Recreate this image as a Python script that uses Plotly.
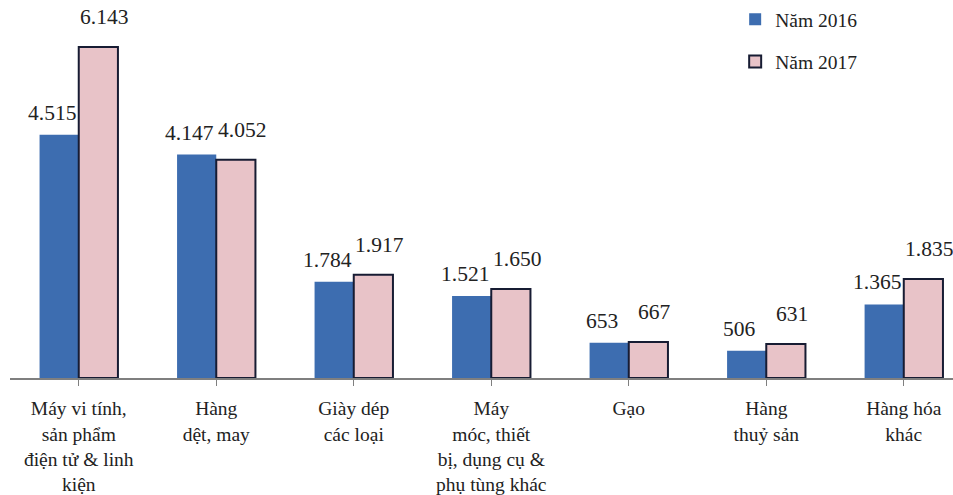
import plotly.graph_objects as go

categories = [
    "Máy vi tính,<br>sản phẩm<br>điện tử & linh<br>kiện",
    "Hàng<br>dệt, may",
    "Giày dép<br>các loại",
    "Máy<br>móc, thiết<br>bị, dụng cụ &<br>phụ tùng khác",
    "Gạo",
    "Hàng<br>thuỷ sản",
    "Hàng hóa<br>khác",
]
values_2016 = [4515, 4147, 1784, 1521, 653, 506, 1365]
values_2017 = [6143, 4052, 1917, 1650, 667, 631, 1835]
series_names = ["Năm 2016", "Năm 2017"]


def fmt(v):
    return f"{v:,}".replace(",", ".")


x_idx = list(range(len(categories)))
serif = "Liberation Serif, Times New Roman, serif"
bargap = 0.43
cat_px = 137.5
half_bar = cat_px * (1 - bargap) / 4  # half of one bar's width in px

fig = go.Figure()
fig.add_trace(go.Bar(
    x=x_idx, y=values_2016, name=series_names[0],
    marker=dict(color="#3d6db0", line=dict(width=0)),
    legendgroup="a",
))
fig.add_trace(go.Bar(
    x=x_idx, y=values_2017, name=series_names[1],
    marker=dict(color="#e8c3c8", line=dict(width=2, color="#171c33")),
    legendgroup="b",
))

annotations = []
for i, v in zip(x_idx, values_2016):
    annotations.append(dict(
        x=i, y=v, xref="x", yref="y", text=fmt(v), showarrow=False,
        xshift=-half_bar - 7, yshift=22, yanchor="middle",
        font=dict(family=serif, size=21.5, color="#222222"),
    ))
for i, v in zip(x_idx, values_2017):
    annotations.append(dict(
        x=i, y=v, xref="x", yref="y", text=fmt(v), showarrow=False,
        xshift=half_bar + 6, yshift=30, yanchor="middle",
        font=dict(family=serif, size=21.5, color="#222222"),
    ))

fig.update_layout(
    width=953, height=495,
    margin=dict(l=10, r=0, t=0, b=117),
    paper_bgcolor="white", plot_bgcolor="white",
    barmode="group", bargap=bargap, bargroupgap=0,
    font=dict(family=serif, color="#222222"),
    showlegend=True,
    legend=dict(
        x=0.769, y=1.0, xanchor="left", yanchor="top",
        font=dict(family=serif, size=19.5, color="#222222"),
        tracegroupgap=14, bgcolor="rgba(0,0,0,0)",
    ),
    annotations=annotations,
)
fig.update_xaxes(
    tickmode="array", tickvals=x_idx, ticktext=categories,
    range=[-0.5, 6.358],
    showline=True, linecolor="#7f7f7f", linewidth=1.5,
    ticks="outside", tickson="boundaries", ticklen=6, tickcolor="#7f7f7f",
    tickfont=dict(family=serif, size=19.5, color="#222222"),
    ticklabelstandoff=6,
    showgrid=False, zeroline=False,
)
fig.update_yaxes(
    range=[0, 7015], visible=False, showgrid=False, zeroline=False,
)

fig.write_html("out.html")
